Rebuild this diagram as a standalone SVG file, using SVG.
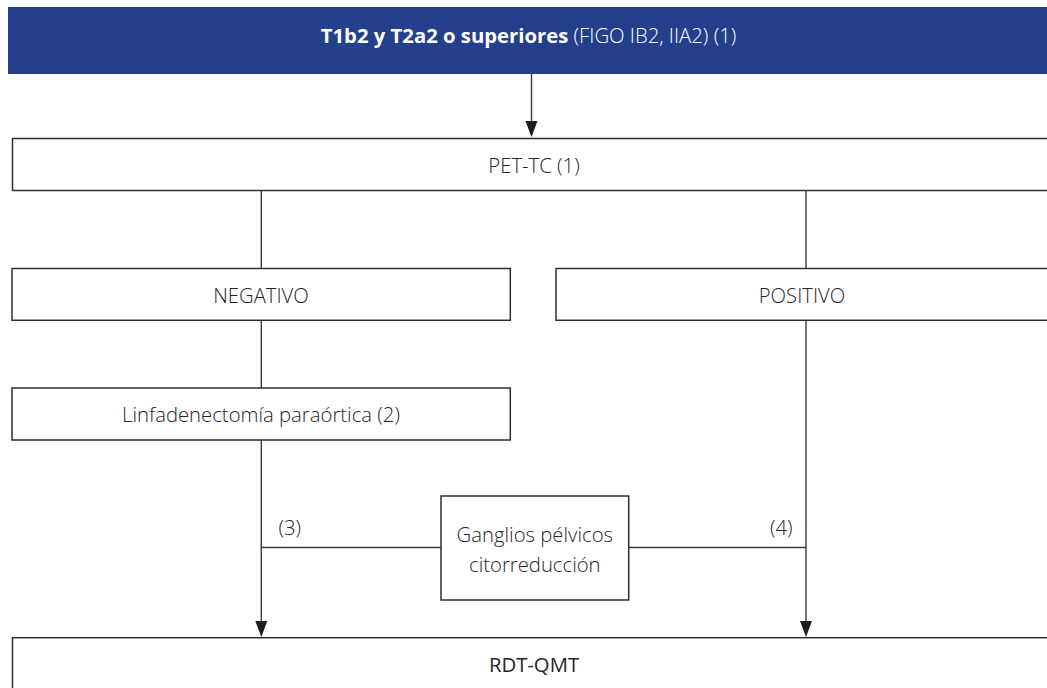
<svg xmlns="http://www.w3.org/2000/svg" width="1047" height="688" viewBox="0 0 1047 688">
<defs>
<style>
.box{fill:#ffffff;stroke:#2e2e2e;stroke-width:1.5}
.line{fill:none;stroke:#3a3a3a;stroke-width:1.4}
.arrow{fill:#1e1e1e}
.t{font-family:"Open Sans","Noto Sans","Liberation Sans",sans-serif;font-weight:300;font-size:20.3px;fill:#262626;text-anchor:middle}
.tl{font-family:"Open Sans","Noto Sans","Liberation Sans",sans-serif;font-weight:300;font-size:20.3px;fill:#262626}
.hdr{font-family:"Open Sans","Noto Sans","Liberation Sans",sans-serif;font-size:20.3px;fill:#ffffff;text-anchor:middle}
</style>
</defs>
<rect width="1047" height="688" fill="#ffffff"/>
<g id="connectors">
<path class="line" d="M531.5,74 V121"/>
<path class="arrow" d="M525.5,121 L537.5,121 L531.5,137 Z"/>
<path class="line" d="M261.3,190.5 V268.5"/>
<path class="line" d="M806,190.5 V268.5"/>
<path class="line" d="M261.3,320.3 V388"/>
<path class="line" d="M261.3,440 V621"/>
<path class="arrow" d="M255.3,621 L267.3,621 L261.3,637 Z"/>
<path class="line" d="M806,320.3 V621"/>
<path class="arrow" d="M800,621 L812,621 L806,637 Z"/>
<path class="line" d="M261.3,547.5 H441"/>
<path class="line" d="M628.7,547.5 H806"/>
<text class="tl" x="278.5" y="535">(3)</text>
<text class="tl" x="770" y="535">(4)</text>
</g>
<g id="header">
<rect x="8" y="7" width="1045" height="67" fill="#243f8b"/>
<text class="hdr" x="528.5" y="43"><tspan font-weight="700">T1b2 y T2a2 o superiores</tspan><tspan font-weight="300"> (FIGO IB2, IIA2) (1)</tspan></text>
</g>
<g id="pettc">
<rect class="box" x="12.5" y="138.5" width="1050" height="52"/>
<text class="t" x="534" y="173.3">PET-TC (1)</text>
</g>
<g id="negativo">
<rect class="box" x="12" y="268.5" width="498.3" height="51.8"/>
<text class="t" x="261" y="303.3">NEGATIVO</text>
</g>
<g id="positivo">
<rect class="box" x="556" y="268.5" width="510" height="51.8"/>
<text class="t" x="802" y="303.3">POSITIVO</text>
</g>
<g id="linfadenectomia">
<rect class="box" x="12" y="388" width="498.3" height="52"/>
<text class="t" x="261" y="421.5">Linfadenectomía paraórtica (2)</text>
</g>
<g id="ganglios">
<rect class="box" x="441" y="496" width="187.7" height="104"/>
<text class="t" x="534.8" y="541.7">Ganglios pélvicos</text>
<text class="t" x="534.8" y="572">citorreducción</text>
</g>
<g id="rdtqmt">
<rect class="box" x="12.5" y="637.7" width="1050" height="60"/>
<text class="t" x="534" y="671.7" style="font-weight:400">RDT-QMT</text>
</g>
</svg>
